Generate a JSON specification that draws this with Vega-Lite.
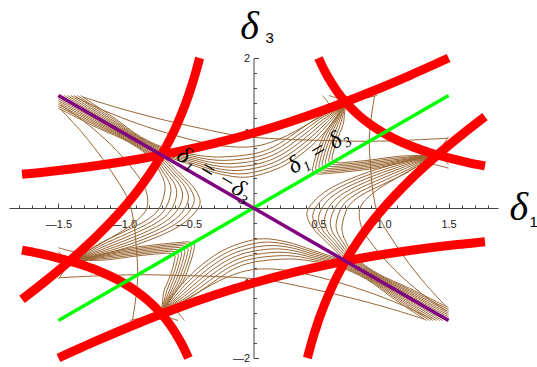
{
"$schema":"https://vega.github.io/schema/vega-lite/v6.json",
"width":489,"height":300,
"autosize":{"type":"none"},
"padding":{"left":9,"top":58,"right":39,"bottom":9},
"config":{"view":{"stroke":null}},
"datasets":{
"red":[
{"c":"A","x":-1.78,"y":0.4487},{"c":"A","x":-1.5,"y":0.5},{"c":"A","x":-1.2,"y":0.5662},{"c":"A","x":-0.9,"y":0.6466},{"c":"A","x":-0.6,"y":0.744},{"c":"A","x":-0.3,"y":0.8612},{"c":"A","x":0,"y":1},{"c":"A","x":0.3,"y":1.1612},{"c":"A","x":0.6,"y":1.344},{"c":"A","x":0.9,"y":1.5466},{"c":"A","x":1.2,"y":1.7662},{"c":"A","x":1.5,"y":2.0},
{"c":"A2","x":-1.5,"y":-2.0},{"c":"A2","x":-1.2,"y":-1.7662},{"c":"A2","x":-0.9,"y":-1.5466},{"c":"A2","x":-0.6,"y":-1.344},{"c":"A2","x":-0.3,"y":-1.1612},{"c":"A2","x":0,"y":-1},{"c":"A2","x":0.3,"y":-0.8612},{"c":"A2","x":0.6,"y":-0.744},{"c":"A2","x":0.9,"y":-0.6466},{"c":"A2","x":1.2,"y":-0.5662},{"c":"A2","x":1.5,"y":-0.5},{"c":"A2","x":1.78,"y":-0.4487},
{"c":"B","x":-1.78,"y":-1.2182},{"c":"B","x":-1.6,"y":-0.975},{"c":"B","x":-1.4,"y":-0.6857},{"c":"B","x":-1.2,"y":-0.3667},{"c":"B","x":-1.0,"y":0},{"c":"B","x":-0.9,"y":0.2111},{"c":"B","x":-0.8,"y":0.45},{"c":"B","x":-0.7,"y":0.7286},{"c":"B","x":-0.6,"y":1.0667},{"c":"B","x":-0.5,"y":1.5},{"c":"B","x":-0.45,"y":1.7722},{"c":"B","x":-0.4142,"y":2.0},
{"c":"B2","x":0.4142,"y":-2.0},{"c":"B2","x":0.45,"y":-1.7722},{"c":"B2","x":0.5,"y":-1.5},{"c":"B2","x":0.6,"y":-1.0667},{"c":"B2","x":0.7,"y":-0.7286},{"c":"B2","x":0.8,"y":-0.45},{"c":"B2","x":0.9,"y":-0.2111},{"c":"B2","x":1.0,"y":0},{"c":"B2","x":1.2,"y":0.3667},{"c":"B2","x":1.4,"y":0.6857},{"c":"B2","x":1.6,"y":0.975},{"c":"B2","x":1.78,"y":1.2182},
{"c":"C","x":0.5,"y":2.0},{"c":"C","x":0.55,"y":1.818},{"c":"C","x":0.6,"y":1.667},{"c":"C","x":0.65,"y":1.538},{"c":"C","x":0.7,"y":1.429},{"c":"C","x":0.8,"y":1.25},{"c":"C","x":0.9,"y":1.111},{"c":"C","x":1.0,"y":1.0},{"c":"C","x":1.1,"y":0.909},{"c":"C","x":1.2,"y":0.833},{"c":"C","x":1.35,"y":0.741},{"c":"C","x":1.5,"y":0.667},{"c":"C","x":1.65,"y":0.606},{"c":"C","x":1.78,"y":0.562},
{"c":"C2","x":-1.78,"y":-0.562},{"c":"C2","x":-1.65,"y":-0.606},{"c":"C2","x":-1.5,"y":-0.667},{"c":"C2","x":-1.35,"y":-0.741},{"c":"C2","x":-1.2,"y":-0.833},{"c":"C2","x":-1.1,"y":-0.909},{"c":"C2","x":-1.0,"y":-1.0},{"c":"C2","x":-0.9,"y":-1.111},{"c":"C2","x":-0.8,"y":-1.25},{"c":"C2","x":-0.7,"y":-1.429},{"c":"C2","x":-0.65,"y":-1.538},{"c":"C2","x":-0.6,"y":-1.667},{"c":"C2","x":-0.55,"y":-1.818},{"c":"C2","x":-0.5,"y":-2.0}
],
"fb":[
{"c":"F0","i":0,"x":1.5,"y":-1.48},{"c":"F0","i":1,"x":1.2,"y":-1.19},{"c":"F0","i":2,"x":0.95,"y":-0.94},{"c":"F0","i":3,"x":0.72,"y":-0.71},{"c":"F0","i":4,"x":0.56,"y":-0.45},{"c":"F0","i":5,"x":0.45,"y":-0.25},{"c":"F0","i":6,"x":0.41,"y":-0.07},{"c":"F0","i":7,"x":0.46,"y":0.08},{"c":"F0","i":8,"x":0.58,"y":0.25},{"c":"F0","i":9,"x":0.82,"y":0.44},{"c":"F0","i":10,"x":1.08,"y":0.58},{"c":"F0","i":11,"x":1.35,"y":0.685},{"c":"F0","i":12,"x":1.414,"y":0.707},
{"c":"F1","i":0,"x":1.5,"y":-1.455},{"c":"F1","i":1,"x":1.2,"y":-1.17},{"c":"F1","i":2,"x":0.95,"y":-0.928},{"c":"F1","i":3,"x":0.73,"y":-0.70},{"c":"F1","i":4,"x":0.585,"y":-0.45},{"c":"F1","i":5,"x":0.49,"y":-0.27},{"c":"F1","i":6,"x":0.455,"y":-0.10},{"c":"F1","i":7,"x":0.505,"y":0.07},{"c":"F1","i":8,"x":0.62,"y":0.235},{"c":"F1","i":9,"x":0.85,"y":0.42},{"c":"F1","i":10,"x":1.10,"y":0.565},{"c":"F1","i":11,"x":1.35,"y":0.682},{"c":"F1","i":12,"x":1.414,"y":0.707},
{"c":"F2","i":0,"x":1.5,"y":-1.43},{"c":"F2","i":1,"x":1.2,"y":-1.15},{"c":"F2","i":2,"x":0.95,"y":-0.916},{"c":"F2","i":3,"x":0.74,"y":-0.69},{"c":"F2","i":4,"x":0.61,"y":-0.45},{"c":"F2","i":5,"x":0.53,"y":-0.29},{"c":"F2","i":6,"x":0.50,"y":-0.13},{"c":"F2","i":7,"x":0.55,"y":0.06},{"c":"F2","i":8,"x":0.66,"y":0.22},{"c":"F2","i":9,"x":0.88,"y":0.40},{"c":"F2","i":10,"x":1.12,"y":0.55},{"c":"F2","i":11,"x":1.35,"y":0.679},{"c":"F2","i":12,"x":1.414,"y":0.707},
{"c":"F3","i":0,"x":1.5,"y":-1.405},{"c":"F3","i":1,"x":1.2,"y":-1.13},{"c":"F3","i":2,"x":0.95,"y":-0.904},{"c":"F3","i":3,"x":0.75,"y":-0.68},{"c":"F3","i":4,"x":0.635,"y":-0.45},{"c":"F3","i":5,"x":0.57,"y":-0.31},{"c":"F3","i":6,"x":0.545,"y":-0.16},{"c":"F3","i":7,"x":0.595,"y":0.05},{"c":"F3","i":8,"x":0.70,"y":0.205},{"c":"F3","i":9,"x":0.91,"y":0.38},{"c":"F3","i":10,"x":1.14,"y":0.535},{"c":"F3","i":11,"x":1.35,"y":0.676},{"c":"F3","i":12,"x":1.414,"y":0.707},
{"c":"F4","i":0,"x":1.5,"y":-1.38},{"c":"F4","i":1,"x":1.2,"y":-1.11},{"c":"F4","i":2,"x":0.95,"y":-0.892},{"c":"F4","i":3,"x":0.76,"y":-0.67},{"c":"F4","i":4,"x":0.66,"y":-0.45},{"c":"F4","i":5,"x":0.61,"y":-0.33},{"c":"F4","i":6,"x":0.59,"y":-0.19},{"c":"F4","i":7,"x":0.64,"y":0.04},{"c":"F4","i":8,"x":0.74,"y":0.19},{"c":"F4","i":9,"x":0.94,"y":0.36},{"c":"F4","i":10,"x":1.16,"y":0.52},{"c":"F4","i":11,"x":1.35,"y":0.673},{"c":"F4","i":12,"x":1.414,"y":0.707},
{"c":"F5","i":0,"x":1.5,"y":-1.355},{"c":"F5","i":1,"x":1.2,"y":-1.09},{"c":"F5","i":2,"x":0.95,"y":-0.88},{"c":"F5","i":3,"x":0.77,"y":-0.66},{"c":"F5","i":4,"x":0.685,"y":-0.45},{"c":"F5","i":5,"x":0.65,"y":-0.35},{"c":"F5","i":6,"x":0.635,"y":-0.22},{"c":"F5","i":7,"x":0.685,"y":0.03},{"c":"F5","i":8,"x":0.78,"y":0.175},{"c":"F5","i":9,"x":0.97,"y":0.34},{"c":"F5","i":10,"x":1.18,"y":0.505},{"c":"F5","i":11,"x":1.35,"y":0.67},{"c":"F5","i":12,"x":1.414,"y":0.707},
{"c":"F6","i":0,"x":1.5,"y":-1.33},{"c":"F6","i":1,"x":1.2,"y":-1.07},{"c":"F6","i":2,"x":0.95,"y":-0.868},{"c":"F6","i":3,"x":0.78,"y":-0.65},{"c":"F6","i":4,"x":0.71,"y":-0.45},{"c":"F6","i":5,"x":0.69,"y":-0.37},{"c":"F6","i":6,"x":0.68,"y":-0.25},{"c":"F6","i":7,"x":0.73,"y":0.02},{"c":"F6","i":8,"x":0.82,"y":0.16},{"c":"F6","i":9,"x":1.00,"y":0.32},{"c":"F6","i":10,"x":1.20,"y":0.49},{"c":"F6","i":11,"x":1.35,"y":0.667},{"c":"F6","i":12,"x":1.414,"y":0.707},
{"c":"E1","i":0,"x":0.93,"y":1.49},{"c":"E1","i":1,"x":0.905,"y":1.2},{"c":"E1","i":2,"x":0.89,"y":0.9},{"c":"E1","i":3,"x":0.9,"y":0.55},{"c":"E1","i":4,"x":0.92,"y":0.2},{"c":"E1","i":5,"x":0.96,"y":-0.1},{"c":"E1","i":6,"x":1.06,"y":-0.4},{"c":"E1","i":7,"x":1.2,"y":-0.75},{"c":"E1","i":8,"x":1.34,"y":-1.05},{"c":"E1","i":9,"x":1.48,"y":-1.31},
{"c":"E2","i":0,"x":1.414,"y":0.707},{"c":"E2","i":1,"x":1.15,"y":0.45},{"c":"E2","i":2,"x":0.92,"y":0.2},{"c":"E2","i":3,"x":0.82,"y":0.0},{"c":"E2","i":4,"x":0.83,"y":-0.25},{"c":"E2","i":5,"x":0.92,"y":-0.5},{"c":"E2","i":6,"x":1.1,"y":-0.85},{"c":"E2","i":7,"x":1.3,"y":-1.15},{"c":"E2","i":8,"x":1.48,"y":-1.37},
{"c":"T1","i":0,"x":1.414,"y":0.707},{"c":"T1","i":1,"x":1.45,"y":0.82},{"c":"T1","i":2,"x":1.5,"y":0.95},
{"c":"T2","i":0,"x":1.414,"y":0.707},{"c":"T2","i":1,"x":1.46,"y":0.65},{"c":"T2","i":2,"x":1.5,"y":0.58},
{"c":"T3","i":0,"x":1.28,"y":0.60},{"c":"T3","i":1,"x":1.40,"y":0.575},{"c":"T3","i":2,"x":1.5,"y":0.53}
],
"gb":[
{"c":"G0","i":0,"x":0.71,"y":1.41},{"c":"G0","i":1,"x":0.64,"y":1.22},{"c":"G0","i":2,"x":0.54,"y":0.97},{"c":"G0","i":3,"x":0.49,"y":0.75},{"c":"G0","i":4,"x":0.46,"y":0.57},{"c":"G0","i":5,"x":0.455,"y":0.49},{"c":"G0","i":6,"x":0.49,"y":0.455},{"c":"G0","i":7,"x":0.57,"y":0.46},{"c":"G0","i":8,"x":0.75,"y":0.49},{"c":"G0","i":9,"x":0.97,"y":0.54},{"c":"G0","i":10,"x":1.22,"y":0.64},{"c":"G0","i":11,"x":1.41,"y":0.71},
{"c":"G1","i":0,"x":0.71,"y":1.41},{"c":"G1","i":1,"x":0.65,"y":1.228},{"c":"G1","i":2,"x":0.565,"y":0.995},{"c":"G1","i":3,"x":0.515,"y":0.775},{"c":"G1","i":4,"x":0.485,"y":0.595},{"c":"G1","i":5,"x":0.48,"y":0.515},{"c":"G1","i":6,"x":0.515,"y":0.48},{"c":"G1","i":7,"x":0.595,"y":0.485},{"c":"G1","i":8,"x":0.775,"y":0.515},{"c":"G1","i":9,"x":0.995,"y":0.565},{"c":"G1","i":10,"x":1.228,"y":0.65},{"c":"G1","i":11,"x":1.41,"y":0.71},
{"c":"G2","i":0,"x":0.71,"y":1.41},{"c":"G2","i":1,"x":0.66,"y":1.236},{"c":"G2","i":2,"x":0.59,"y":1.02},{"c":"G2","i":3,"x":0.54,"y":0.8},{"c":"G2","i":4,"x":0.51,"y":0.62},{"c":"G2","i":5,"x":0.505,"y":0.54},{"c":"G2","i":6,"x":0.54,"y":0.505},{"c":"G2","i":7,"x":0.62,"y":0.51},{"c":"G2","i":8,"x":0.8,"y":0.54},{"c":"G2","i":9,"x":1.02,"y":0.59},{"c":"G2","i":10,"x":1.236,"y":0.66},{"c":"G2","i":11,"x":1.41,"y":0.71},
{"c":"G3","i":0,"x":0.71,"y":1.41},{"c":"G3","i":1,"x":0.67,"y":1.244},{"c":"G3","i":2,"x":0.615,"y":1.045},{"c":"G3","i":3,"x":0.565,"y":0.825},{"c":"G3","i":4,"x":0.535,"y":0.645},{"c":"G3","i":5,"x":0.53,"y":0.565},{"c":"G3","i":6,"x":0.565,"y":0.53},{"c":"G3","i":7,"x":0.645,"y":0.535},{"c":"G3","i":8,"x":0.825,"y":0.565},{"c":"G3","i":9,"x":1.045,"y":0.615},{"c":"G3","i":10,"x":1.244,"y":0.67},{"c":"G3","i":11,"x":1.41,"y":0.71},
{"c":"G4","i":0,"x":0.71,"y":1.41},{"c":"G4","i":1,"x":0.68,"y":1.252},{"c":"G4","i":2,"x":0.64,"y":1.07},{"c":"G4","i":3,"x":0.59,"y":0.85},{"c":"G4","i":4,"x":0.56,"y":0.67},{"c":"G4","i":5,"x":0.555,"y":0.59},{"c":"G4","i":6,"x":0.59,"y":0.555},{"c":"G4","i":7,"x":0.67,"y":0.56},{"c":"G4","i":8,"x":0.85,"y":0.59},{"c":"G4","i":9,"x":1.07,"y":0.64},{"c":"G4","i":10,"x":1.252,"y":0.68},{"c":"G4","i":11,"x":1.41,"y":0.71},
{"c":"G5","i":0,"x":0.71,"y":1.41},{"c":"G5","i":1,"x":0.69,"y":1.26},{"c":"G5","i":2,"x":0.665,"y":1.095},{"c":"G5","i":3,"x":0.615,"y":0.875},{"c":"G5","i":4,"x":0.585,"y":0.695},{"c":"G5","i":5,"x":0.58,"y":0.615},{"c":"G5","i":6,"x":0.615,"y":0.58},{"c":"G5","i":7,"x":0.695,"y":0.585},{"c":"G5","i":8,"x":0.875,"y":0.615},{"c":"G5","i":9,"x":1.095,"y":0.665},{"c":"G5","i":10,"x":1.26,"y":0.69},{"c":"G5","i":11,"x":1.41,"y":0.71},
{"c":"G6","i":0,"x":0.71,"y":1.41},{"c":"G6","i":1,"x":0.70,"y":1.268},{"c":"G6","i":2,"x":0.69,"y":1.12},{"c":"G6","i":3,"x":0.64,"y":0.9},{"c":"G6","i":4,"x":0.61,"y":0.72},{"c":"G6","i":5,"x":0.605,"y":0.64},{"c":"G6","i":6,"x":0.64,"y":0.605},{"c":"G6","i":7,"x":0.72,"y":0.61},{"c":"G6","i":8,"x":0.9,"y":0.64},{"c":"G6","i":9,"x":1.12,"y":0.69},{"c":"G6","i":10,"x":1.268,"y":0.70},{"c":"G6","i":11,"x":1.41,"y":0.71}
],
"gp":[
{"c":"g","x":-1.5,"y":-1.5},{"c":"g","x":1.5,"y":1.5},{"c":"p","x":-1.5,"y":1.5},{"c":"p","x":1.5,"y":-1.5}
]
},
"layer":[
{"data":{"name":"fb"},"mark":{"type":"line","color":"#996633","strokeWidth":1,"interpolate":"catmull-rom"},
 "encoding":{"x":{"field":"x","type":"quantitative","scale":{"domain":[-1.88,1.88],"nice":false},"axis":null},
 "y":{"field":"y","type":"quantitative","scale":{"domain":[-2,2],"nice":false},"axis":null},
 "detail":{"field":"c"},"order":{"field":"i"}}},
{"data":{"name":"fb"},"mark":{"type":"line","color":"#996633","strokeWidth":1,"interpolate":"catmull-rom"},
 "encoding":{"x":{"field":"y","type":"quantitative","scale":{"domain":[-1.88,1.88],"nice":false},"axis":null},
 "y":{"field":"x","type":"quantitative","scale":{"domain":[-2,2],"nice":false},"axis":null},
 "detail":{"field":"c"},"order":{"field":"i"}}},
{"data":{"name":"fb"},"mark":{"type":"line","color":"#996633","strokeWidth":1,"interpolate":"catmull-rom"},
 "encoding":{"x":{"field":"x","type":"quantitative","scale":{"domain":[-1.88,1.88],"nice":false,"reverse":true},"axis":null},
 "y":{"field":"y","type":"quantitative","scale":{"domain":[-2,2],"nice":false,"reverse":true},"axis":null},
 "detail":{"field":"c"},"order":{"field":"i"}}},
{"data":{"name":"fb"},"mark":{"type":"line","color":"#996633","strokeWidth":1,"interpolate":"catmull-rom"},
 "encoding":{"x":{"field":"y","type":"quantitative","scale":{"domain":[-1.88,1.88],"nice":false,"reverse":true},"axis":null},
 "y":{"field":"x","type":"quantitative","scale":{"domain":[-2,2],"nice":false,"reverse":true},"axis":null},
 "detail":{"field":"c"},"order":{"field":"i"}}},
{"data":{"name":"gb"},"mark":{"type":"line","color":"#996633","strokeWidth":1,"interpolate":"catmull-rom"},
 "encoding":{"x":{"field":"x","type":"quantitative","scale":{"domain":[-1.88,1.88],"nice":false},"axis":null},
 "y":{"field":"y","type":"quantitative","scale":{"domain":[-2,2],"nice":false},"axis":null},
 "detail":{"field":"c"},"order":{"field":"i"}}},
{"data":{"name":"gb"},"mark":{"type":"line","color":"#996633","strokeWidth":1,"interpolate":"catmull-rom"},
 "encoding":{"x":{"field":"x","type":"quantitative","scale":{"domain":[-1.88,1.88],"nice":false,"reverse":true},"axis":null},
 "y":{"field":"y","type":"quantitative","scale":{"domain":[-2,2],"nice":false,"reverse":true},"axis":null},
 "detail":{"field":"c"},"order":{"field":"i"}}},
{"data":{"name":"red"},"mark":{"type":"line","color":"#ff0000","strokeWidth":9,"interpolate":"monotone","strokeCap":"butt"},
 "encoding":{"x":{"field":"x","type":"quantitative","scale":{"domain":[-1.88,1.88],"nice":false},
   "axis":{"orient":"bottom","offset":-150,"values":[-1.5,-1,-0.5,0.5,1,1.5],"labelExpr":"datum.value < 0 ? '\u2014' + format(-datum.value,'.1f') : format(datum.value,'.1f')","tickSize":-5,"tickColor":"#444","domainColor":"#444","labelFont":"Liberation Sans","labelFontSize":11,"labelColor":"#222","labelPadding":15,"labelFlush":false,"labelOverlap":false,"title":null,"grid":false}},
 "y":{"field":"y","type":"quantitative","scale":{"domain":[-2,2],"nice":false},
   "axis":{"orient":"left","offset":-244.5,"values":[-2,-1,1,2],"labelExpr":"datum.value < 0 ? '\u2014' + format(-datum.value,'d') : format(datum.value,'d')","tickSize":-5,"tickColor":"#444","domainColor":"#444","labelFont":"Liberation Sans","labelFontSize":11,"labelColor":"#222","labelPadding":9,"labelFlush":false,"labelOverlap":false,"title":null,"grid":false}},
 "detail":{"field":"c"}}},
{"data":{"name":"gp"},"mark":{"type":"line","strokeWidth":3.5,"strokeCap":"butt"},
 "encoding":{"x":{"field":"x","type":"quantitative","scale":{"domain":[-1.88,1.88],"nice":false},
   "axis":{"orient":"bottom","offset":-150,"values":[-1.8,-1.7,-1.6,-1.4,-1.3,-1.2,-1.1,-0.9,-0.8,-0.7,-0.6,-0.4,-0.3,-0.2,-0.1,0.1,0.2,0.3,0.4,0.6,0.7,0.8,0.9,1.1,1.2,1.3,1.4,1.6,1.7,1.8],"labels":false,"domain":false,"tickSize":-3,"tickColor":"#444","title":null,"grid":false}},
 "y":{"field":"y","type":"quantitative","scale":{"domain":[-2,2],"nice":false},
   "axis":{"orient":"left","offset":-244.5,"values":[-1.8,-1.6,-1.4,-1.2,-0.8,-0.6,-0.4,-0.2,0.2,0.4,0.6,0.8,1.2,1.4,1.6,1.8],"labels":false,"domain":false,"tickSize":-3,"tickColor":"#444","title":null,"grid":false}},
 "color":{"field":"c","type":"nominal","scale":{"domain":["g","p"],"range":["#00ff00","#800080"]},"legend":null},
 "detail":{"field":"c"}}},
{"data":{"values":[{"t":"δ","x":-0.03,"y":2.42},{"t":"δ","x":2.04,"y":0.0}]},
 "mark":{"type":"text","font":"Liberation Serif","fontStyle":"italic","fontSize":40,"color":"#000","align":"center","baseline":"middle"},
 "encoding":{"x":{"field":"x","type":"quantitative","scale":{"domain":[-1.88,1.88],"nice":false},"axis":null},
 "y":{"field":"y","type":"quantitative","scale":{"domain":[-2,2],"nice":false},"axis":null},"text":{"field":"t"}}},
{"data":{"values":[{"t":"3","x":0.125,"y":2.27},{"t":"1","x":2.155,"y":-0.19}]},
 "mark":{"type":"text","font":"Liberation Sans","fontSize":15,"color":"#000","align":"center","baseline":"middle"},
 "encoding":{"x":{"field":"x","type":"quantitative","scale":{"domain":[-1.88,1.88],"nice":false},"axis":null},
 "y":{"field":"y","type":"quantitative","scale":{"domain":[-2,2],"nice":false},"axis":null},"text":{"field":"t"}}},
{"data":{"values":[{"t":"δ₁ = −δ₃","x":-0.3,"y":0.45}]},
 "mark":{"type":"text","font":"Liberation Serif","fontStyle":"italic","fontSize":24,"angle":31,"color":"#000","align":"center","baseline":"middle"},
 "encoding":{"x":{"field":"x","type":"quantitative","scale":{"domain":[-1.88,1.88],"nice":false},"axis":null},
 "y":{"field":"y","type":"quantitative","scale":{"domain":[-2,2],"nice":false},"axis":null},"text":{"field":"t"}}},
{"data":{"values":[{"t":"δ₁ = δ₃","x":0.5,"y":0.76}]},
 "mark":{"type":"text","font":"Liberation Serif","fontStyle":"italic","fontSize":24,"angle":-31,"color":"#000","align":"center","baseline":"middle"},
 "encoding":{"x":{"field":"x","type":"quantitative","scale":{"domain":[-1.88,1.88],"nice":false},"axis":null},
 "y":{"field":"y","type":"quantitative","scale":{"domain":[-2,2],"nice":false},"axis":null},"text":{"field":"t"}}}
],
"resolve":{"scale":{"x":"independent","y":"independent","color":"independent"},"axis":{"x":"independent","y":"independent"}}
}
